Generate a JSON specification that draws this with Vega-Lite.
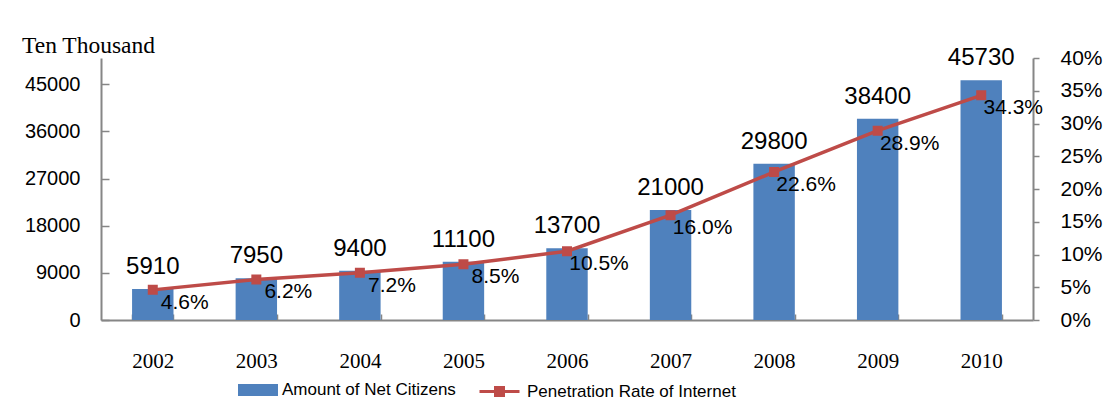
{
  "$schema": "https://vega.github.io/schema/vega-lite/v6.json",
  "autosize": {"type": "none"},
  "width": 932,
  "height": 262,
  "padding": {"left": 101, "top": 58, "right": 72, "bottom": 96},
  "background": "#ffffff",
  "title": {
    "text": "Ten Thousand",
    "orient": "top",
    "anchor": "start",
    "frame": "group",
    "baseline": "alphabetic",
    "offset": 10,
    "dx": -79,
    "dy": 40,
    "font": "Liberation Serif",
    "fontSize": 23.5,
    "fontWeight": "normal",
    "color": "#000000"
  },
  "config": {
    "view": {"stroke": null},
    "axis": {"grid": false, "domainColor": "#868686", "tickColor": "#868686", "domainWidth": 2, "tickWidth": 1.5, "labelColor": "#000000", "title": null, "labelOverlap": false}
  },
  "data": {
    "values": [
      {"year": "2002", "users": 5910, "rate": 0.046},
      {"year": "2003", "users": 7950, "rate": 0.062},
      {"year": "2004", "users": 9400, "rate": 0.072},
      {"year": "2005", "users": 11100, "rate": 0.085},
      {"year": "2006", "users": 13700, "rate": 0.105},
      {"year": "2007", "users": 21000, "rate": 0.16},
      {"year": "2008", "users": 29800, "rate": 0.226},
      {"year": "2009", "users": 38400, "rate": 0.289},
      {"year": "2010", "users": 45730, "rate": 0.343}
    ]
  },
  "encoding": {
    "x": {
      "field": "year",
      "type": "ordinal",
      "scale": {"paddingInner": 0.6, "paddingOuter": 0.3},
      "axis": {
        "labelAngle": 0,
        "labelFont": "Liberation Serif",
        "labelFontSize": 21,
        "tickBand": "extent",
        "tickSize": -6,
        "labelPadding": 36
      }
    }
  },
  "layer": [
    {
      "encoding": {
        "y": {
          "field": "users",
          "type": "quantitative",
          "scale": {"domain": [0, 50000], "nice": false},
          "axis": {
            "values": [0, 9000, 18000, 27000, 36000, 45000],
            "format": "d",
            "labelFont": "Liberation Sans",
            "labelFontSize": 20,
            "tickSize": -8,
            "labelPadding": 29
          }
        }
      },
      "layer": [
        {
          "mark": {"type": "bar"},
          "encoding": {
            "color": {
              "datum": "Amount of Net Citizens",
              "type": "nominal",
              "scale": {"range": ["#4F81BD"]},
              "legend": {
                "orient": "none",
                "legendX": 137,
                "legendY": 312,
                "title": null,
                "padding": 0,
                "symbolType": "M-1,-0.3H1V0.3H-1Z",
                "symbolSize": 1600,
                "symbolStrokeWidth": 0,
                "labelFont": "Liberation Sans",
                "labelFontSize": 17,
                "labelColor": "#000000",
                "labelOffset": 4,
                "labelLimit": 0
              }
            }
          }
        },
        {
          "mark": {"type": "text", "font": "Liberation Sans", "fontSize": 24, "dy": -15, "baseline": "alphabetic", "color": "#000000"},
          "encoding": {
            "text": {"field": "users", "type": "quantitative", "format": "d"}
          }
        }
      ]
    },
    {
      "encoding": {
        "y": {
          "field": "rate",
          "type": "quantitative",
          "scale": {"domain": [0, 0.4], "nice": false},
          "axis": {
            "orient": "right",
            "values": [0, 0.05, 0.1, 0.15, 0.2, 0.25, 0.3, 0.35, 0.4],
            "format": ".0%",
            "labelFont": "Liberation Sans",
            "labelFontSize": 21,
            "labelOverlap": false,
            "tickSize": 6,
            "labelPadding": 21
          }
        }
      },
      "layer": [
        {
          "mark": {"type": "line", "strokeWidth": 3.5, "point": {"shape": "square", "size": 64, "filled": true, "color": "#BE4B48", "opacity": 1}},
          "encoding": {
            "stroke": {
              "datum": "Penetration Rate of Internet",
              "type": "nominal",
              "scale": {"range": ["#BE4B48"]},
              "legend": {
                "orient": "none",
                "legendX": 377,
                "legendY": 312,
                "title": null,
                "padding": 0,
                "symbolType": "M-1,0H1M-0.2,-0.2H0.2V0.2H-0.2Z",
                "symbolSize": 1600,
                "symbolStrokeWidth": 3,
                "symbolFillColor": "#BE4B48",
                "labelFont": "Liberation Sans",
                "labelFontSize": 17,
                "labelColor": "#000000",
                "labelOffset": 6,
                "labelLimit": 0,
                "encode": {"symbols": {"update": {"fill": {"value": "#BE4B48"}, "fillOpacity": {"value": 1}}}}
              }
            }
          }
        },
        {
          "mark": {"type": "text", "font": "Liberation Sans", "fontSize": 21, "dx": 32, "dy": 19, "baseline": "alphabetic", "align": "center", "color": "#000000"},
          "encoding": {
            "text": {"field": "rate", "type": "quantitative", "format": ".1%"}
          }
        }
      ]
    }
  ],
  "resolve": {"scale": {"y": "independent"}}
}
